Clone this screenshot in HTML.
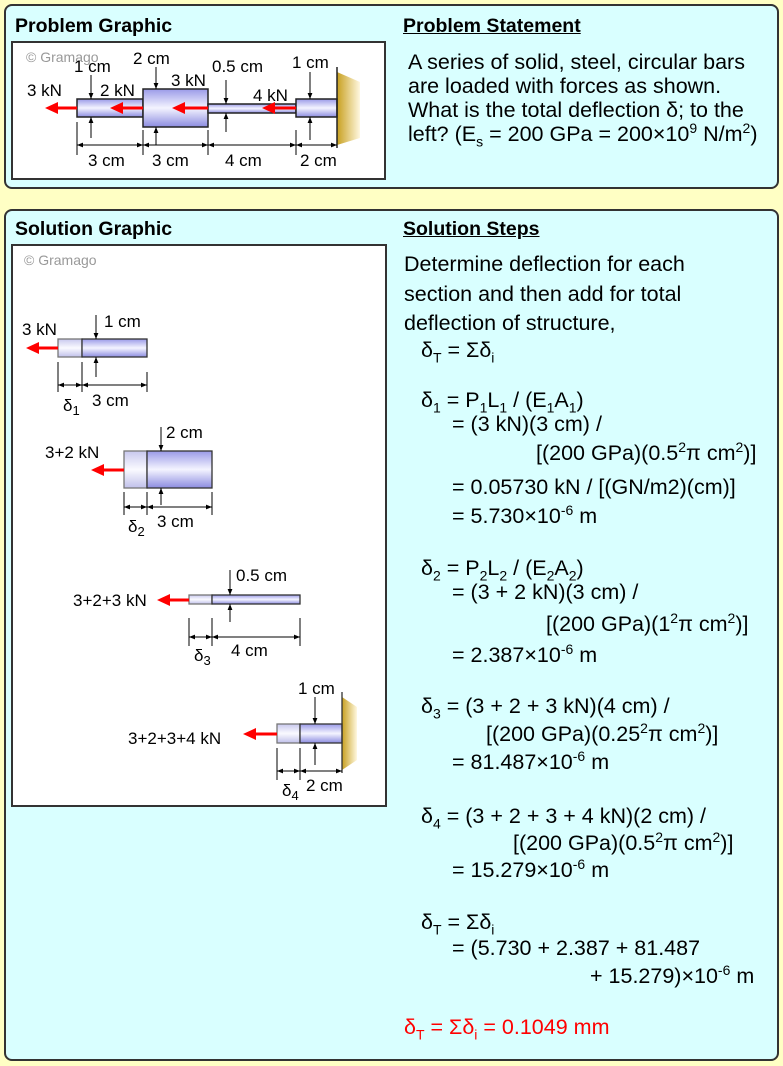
<!DOCTYPE html>
<html><head><meta charset="utf-8"><style>
body{margin:0;width:783px;height:1066px;background:#ffffc4;position:relative;overflow:hidden;font-family:"Liberation Sans",sans-serif;color:#000}
.p{position:absolute;background:#d9ffff;border:2px solid #333;border-radius:8px;box-sizing:border-box}
.t{position:absolute;white-space:nowrap;font-size:21.5px;line-height:22px}
.h{font-weight:bold;font-size:19.5px}
.u{text-decoration:underline}
sub,sup{font-size:14px;line-height:0}
.w{position:absolute;background:#fff;border:2px solid #333;box-sizing:border-box}
</style></head><body>
<div class="p" style="left:4px;top:4px;width:775px;height:185px"></div>
<div class="p" style="left:4px;top:209px;width:775px;height:852px"></div>
<div class="t h" style="left:15px;top:15px">Problem Graphic</div>
<div class="t h u" style="left:403px;top:15px">Problem Statement</div>
<div class="t h" style="left:15px;top:218px">Solution Graphic</div>
<div class="t h u" style="left:403px;top:218px">Solution Steps</div>
<div class="w" style="left:11px;top:41px;width:375px;height:139px"></div>
<div class="w" style="left:11px;top:244px;width:376px;height:563px"></div>

<div class="t" style="left:408px;top:50px;line-height:24px">A series of solid, steel, circular bars<br>are loaded with forces as shown.<br>What is the total deflection δ; to the<br>left? (E<sub>s</sub> = 200 GPa = 200×10<sup>9</sup> N/m<sup>2</sup>)</div>

<div class="t" style="left:404px;top:250px;line-height:29.5px">Determine deflection for each<br>section and then add for total<br>deflection of structure,</div>
<div class="t" style="left:421px;top:339px">δ<sub>T</sub> = Σδ<sub>i</sub></div>
<div class="t" style="left:421px;top:389px">δ<sub>1</sub> = P<sub>1</sub>L<sub>1</sub> / (E<sub>1</sub>A<sub>1</sub>)</div>
<div class="t" style="left:452px;top:413px">= (3 kN)(3 cm) /</div>
<div class="t" style="left:536px;top:442px">[(200 GPa)(0.5<sup>2</sup>π cm<sup>2</sup>)]</div>
<div class="t" style="left:452px;top:476px">= 0.05730 kN / [(GN/m2)(cm)]</div>
<div class="t" style="left:452px;top:505px">= 5.730×10<sup>-6</sup> m</div>
<div class="t" style="left:421px;top:557px">δ<sub>2</sub> = P<sub>2</sub>L<sub>2</sub> / (E<sub>2</sub>A<sub>2</sub>)</div>
<div class="t" style="left:452px;top:581px">= (3 + 2 kN)(3 cm) /</div>
<div class="t" style="left:546px;top:613px">[(200 GPa)(1<sup>2</sup>π cm<sup>2</sup>)]</div>
<div class="t" style="left:452px;top:644px">= 2.387×10<sup>-6</sup> m</div>
<div class="t" style="left:421px;top:695px">δ<sub>3</sub> = (3 + 2 + 3 kN)(4 cm) /</div>
<div class="t" style="left:486px;top:723px">[(200 GPa)(0.25<sup>2</sup>π cm<sup>2</sup>)]</div>
<div class="t" style="left:452px;top:751px">= 81.487×10<sup>-6</sup> m</div>
<div class="t" style="left:421px;top:805px">δ<sub>4</sub> = (3 + 2 + 3 + 4 kN)(2 cm) /</div>
<div class="t" style="left:513px;top:832px">[(200 GPa)(0.5<sup>2</sup>π cm<sup>2</sup>)]</div>
<div class="t" style="left:452px;top:859px">= 15.279×10<sup>-6</sup> m</div>
<div class="t" style="left:421px;top:911px">δ<sub>T</sub> = Σδ<sub>i</sub></div>
<div class="t" style="left:452px;top:937px">= (5.730 + 2.387 + 81.487</div>
<div class="t" style="left:590px;top:965px">+ 15.279)×10<sup>-6</sup> m</div>
<div class="t" style="left:404px;top:1016px;color:#f00">δ<sub>T</sub> = Σδ<sub>i</sub> = 0.1049 mm</div>

<svg width="783" height="1066" style="position:absolute;left:0;top:0" font-family="Liberation Sans, sans-serif" font-size="17">
<defs>
<linearGradient id="b" x1="0" y1="0" x2="0" y2="1"><stop offset="0" stop-color="#9a9ae8"/><stop offset=".5" stop-color="#f4f4ff"/><stop offset="1" stop-color="#8c8ce0"/></linearGradient>
<linearGradient id="l" x1="0" y1="0" x2="0" y2="1"><stop offset="0" stop-color="#c8c8ee"/><stop offset=".5" stop-color="#fafaff"/><stop offset="1" stop-color="#c0c0ea"/></linearGradient>
<linearGradient id="g" x1="0" y1="0" x2="1" y2="0"><stop offset="0" stop-color="#c8a020"/><stop offset="1" stop-color="#fff8e0"/></linearGradient>
<marker id="a" viewBox="0 0 10 10" refX="10" refY="5" markerWidth="6" markerHeight="6" orient="auto-start-reverse"><path d="M0,1L10,5L0,9z" fill="#000"/></marker>
</defs>
<g fill="#999" font-size="14"><text x="26" y="62">© Gramago</text><text x="24" y="265">© Gramago</text></g>
<path d="M337,72L360,82L360,138L337,145z" fill="url(#g)"/>
<g stroke="#222" stroke-width="1.5">
<rect x="77" y="99" width="66" height="18" fill="url(#b)"/>
<rect x="143" y="89" width="65" height="38" fill="url(#b)"/>
<rect x="208" y="104" width="88" height="9" fill="url(#b)"/>
<rect x="296" y="99" width="41" height="18" fill="url(#b)"/>
<line x1="337" y1="67" x2="337" y2="148"/>
</g>
<g stroke="#f00" stroke-width="3" fill="#f00">
<line x1="77" y1="108" x2="55" y2="108"/><path d="M45,108L58,102L58,114z" stroke="none"/>
<line x1="143" y1="108" x2="120" y2="108"/><path d="M110,108L123,102L123,114z" stroke="none"/>
<line x1="208" y1="108" x2="182" y2="108"/><path d="M172,108L185,102L185,114z" stroke="none"/>
<line x1="296" y1="108" x2="272" y2="108"/><path d="M262,108L275,102L275,114z" stroke="none"/>
</g>
<g stroke="#000" stroke-width="1">
<line x1="77" y1="122" x2="77" y2="155"/><line x1="143" y1="130" x2="143" y2="155"/><line x1="208" y1="130" x2="208" y2="155"/><line x1="296" y1="130" x2="296" y2="155"/>
<line x1="77" y1="145" x2="143" y2="145" marker-start="url(#a)" marker-end="url(#a)"/>
<line x1="143" y1="145" x2="208" y2="145" marker-start="url(#a)" marker-end="url(#a)"/>
<line x1="208" y1="145" x2="296" y2="145" marker-start="url(#a)" marker-end="url(#a)"/>
<line x1="296" y1="145" x2="337" y2="145" marker-start="url(#a)" marker-end="url(#a)"/>
<line x1="91" y1="75" x2="91" y2="99" marker-end="url(#a)"/><line x1="91" y1="138" x2="91" y2="117" marker-end="url(#a)"/>
<line x1="156" y1="67" x2="156" y2="89" marker-end="url(#a)"/><line x1="156" y1="145" x2="156" y2="127" marker-end="url(#a)"/>
<line x1="226" y1="80" x2="226" y2="104" marker-end="url(#a)"/><line x1="226" y1="132" x2="226" y2="113" marker-end="url(#a)"/>
<line x1="310" y1="72" x2="310" y2="99" marker-end="url(#a)"/><line x1="310" y1="140" x2="310" y2="117" marker-end="url(#a)"/>
</g>
<text x="27" y="96">3 kN</text><text x="74" y="72">1 cm</text><text x="100" y="96">2 kN</text><text x="133" y="64">2 cm</text><text x="171" y="86">3 kN</text><text x="212" y="72">0.5 cm</text><text x="253" y="101">4 kN</text><text x="292" y="68">1 cm</text>
<text x="88" y="166">3 cm</text><text x="152" y="166">3 cm</text><text x="225" y="166">4 cm</text><text x="300" y="166">2 cm</text>

<path d="M342,697L357,707L357,760L342,770z" fill="url(#g)"/>
<g stroke="#333" stroke-width="1.3">
<rect x="58" y="339" width="24" height="18" fill="url(#l)" stroke="#777"/><rect x="82" y="339" width="65" height="18" fill="url(#b)"/>
<rect x="124" y="451" width="23" height="37" fill="url(#l)" stroke="#777"/><rect x="147" y="451" width="65" height="37" fill="url(#b)"/>
<rect x="189" y="595" width="23" height="9" fill="url(#l)" stroke="#777"/><rect x="212" y="595" width="88" height="9" fill="url(#b)"/>
<rect x="277" y="724" width="23" height="19" fill="url(#l)" stroke="#777"/><rect x="300" y="724" width="42" height="19" fill="url(#b)"/>
<line x1="342" y1="692" x2="342" y2="773"/>
</g>
<g stroke="#f00" stroke-width="3" fill="#f00">
<line x1="58" y1="348" x2="36" y2="348"/><path d="M26,348L39,342L39,354z" stroke="none"/>
<line x1="124" y1="470" x2="101" y2="470"/><path d="M91,470L104,464L104,476z" stroke="none"/>
<line x1="189" y1="600" x2="167" y2="600"/><path d="M157,600L170,594L170,606z" stroke="none"/>
<line x1="277" y1="734" x2="253" y2="734"/><path d="M243,734L256,728L256,740z" stroke="none"/>
</g>
<g stroke="#000" stroke-width="1">
<line x1="58" y1="362" x2="58" y2="392"/><line x1="82" y1="362" x2="82" y2="392"/><line x1="147" y1="372" x2="147" y2="392"/>
<line x1="58" y1="385" x2="82" y2="385" marker-start="url(#a)" marker-end="url(#a)"/><line x1="82" y1="385" x2="147" y2="385" marker-start="url(#a)" marker-end="url(#a)"/>
<line x1="96" y1="315" x2="96" y2="339" marker-end="url(#a)"/><line x1="96" y1="377" x2="96" y2="357" marker-end="url(#a)"/>
<line x1="124" y1="492" x2="124" y2="515"/><line x1="147" y1="492" x2="147" y2="515"/><line x1="212" y1="492" x2="212" y2="515"/>
<line x1="124" y1="507" x2="147" y2="507" marker-start="url(#a)" marker-end="url(#a)"/><line x1="147" y1="507" x2="212" y2="507" marker-start="url(#a)" marker-end="url(#a)"/>
<line x1="161" y1="427" x2="161" y2="451" marker-end="url(#a)"/><line x1="161" y1="505" x2="161" y2="488" marker-end="url(#a)"/>
<line x1="189" y1="618" x2="189" y2="646"/><line x1="212" y1="618" x2="212" y2="646"/><line x1="300" y1="618" x2="300" y2="646"/>
<line x1="189" y1="637" x2="212" y2="637" marker-start="url(#a)" marker-end="url(#a)"/><line x1="212" y1="637" x2="300" y2="637" marker-start="url(#a)" marker-end="url(#a)"/>
<line x1="230" y1="570" x2="230" y2="595" marker-end="url(#a)"/><line x1="230" y1="622" x2="230" y2="604" marker-end="url(#a)"/>
<line x1="277" y1="748" x2="277" y2="780"/><line x1="300" y1="748" x2="300" y2="780"/>
<line x1="277" y1="771" x2="300" y2="771" marker-start="url(#a)" marker-end="url(#a)"/><line x1="300" y1="771" x2="342" y2="771" marker-start="url(#a)" marker-end="url(#a)"/>
<line x1="315" y1="697" x2="315" y2="724" marker-end="url(#a)"/><line x1="315" y1="765" x2="315" y2="743" marker-end="url(#a)"/>
</g>
<text x="22" y="335">3 kN</text><text x="104" y="327">1 cm</text><text x="63" y="411">δ<tspan font-size="13" dy="4">1</tspan></text><text x="92" y="406">3 cm</text>
<text x="45" y="458">3+2 kN</text><text x="166" y="438">2 cm</text><text x="128" y="532">δ<tspan font-size="13" dy="4">2</tspan></text><text x="157" y="527">3 cm</text>
<text x="73" y="606">3+2+3 kN</text><text x="236" y="581">0.5 cm</text><text x="194" y="661">δ<tspan font-size="13" dy="4">3</tspan></text><text x="231" y="656">4 cm</text>
<text x="128" y="744">3+2+3+4 kN</text><text x="298" y="694">1 cm</text><text x="282" y="796">δ<tspan font-size="13" dy="4">4</tspan></text><text x="306" y="791">2 cm</text>
</svg>
</body></html>
